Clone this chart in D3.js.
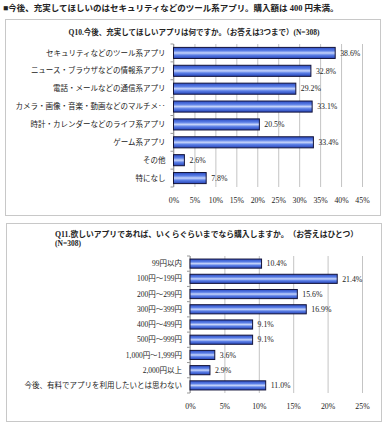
<!DOCTYPE html>
<html>
<head>
<meta charset="utf-8">
<script src="https://cdn.jsdelivr.net/npm/d3@7"></script>
<style>
  body { margin: 0; background: #fff; }
  svg text { font-family: "Liberation Serif", "Noto Sans CJK JP", serif; fill: #222; }
</style>
</head>
<body>
<svg id="chart" width="384" height="426"></svg>
<script>
const heading = '■今後、充実してほしいのはセキュリティなどのツール系アプリ。購入額は 400 円未満。';

const q10Title = 'Q10.今後、充実してほしいアプリは何ですか。（お答えは3つまで）(N=308)';
const q10Cats = [
  'セキュリティなどのツール系アプリ',
  'ニュース・ブラウザなどの情報系アプリ',
  '電話・メールなどの通信系アプリ',
  'カメラ・画像・音楽・動画などのマルチメ‥',
  '時計・カレンダーなどのライフ系アプリ',
  'ゲーム系アプリ',
  'その他',
  '特になし'
];
const q10Values = [38.6, 32.8, 29.2, 33.1, 20.5, 33.4, 2.6, 7.8];
const q10Ticks = [0, 5, 10, 15, 20, 25, 30, 35, 40, 45];

const q11Title = 'Q11.欲しいアプリであれば、いくらぐらいまでなら購入しますか。（お答えはひとつ）';
const q11Sub = '(N=308)';
const q11Cats = [
  '99円以内',
  '100円～199円',
  '200円～299円',
  '300円～399円',
  '400円～499円',
  '500円～999円',
  '1,000円～1,999円',
  '2,000円以上',
  '今後、有料でアプリを利用したいとは思わない'
];
const q11Values = [10.4, 21.4, 15.6, 16.9, 9.1, 9.1, 3.6, 2.9, 11.0];
const q11Ticks = [0, 5, 10, 15, 20, 25];

const svg = d3.select('#chart');

// bar fill: darker edges, light stripe in the middle
const grad = svg.append('defs').append('linearGradient')
    .attr('id', 'barGrad')
    .attr('x1', 0).attr('y1', 0).attr('x2', 0).attr('y2', 1);
grad.append('stop').attr('offset', '0%').attr('stop-color', '#2c4cc4');
grad.append('stop').attr('offset', '30%').attr('stop-color', '#5a7ee6');
grad.append('stop').attr('offset', '50%').attr('stop-color', '#c6d4fa');
grad.append('stop').attr('offset', '70%').attr('stop-color', '#5a7ee6');
grad.append('stop').attr('offset', '100%').attr('stop-color', '#2644b8');

svg.append('text')
    .attr('x', 3).attr('y', 11)
    .style('font-size', '8.5px')
    .style('font-weight', 'bold')
    .text(heading);

function drawChart(cfg) {
  let { box, title, cats, values, ticks, xr, yr, pad } = cfg;

  svg.append('rect')
      .attr('x', box[0] + 0.5).attr('y', box[1] + 0.5)
      .attr('width', box[2]).attr('height', box[3])
      .attr('fill', '#fff')
      .attr('stroke', '#c8c8c8');

  title.forEach(t => {
    svg.append('text')
        .attr('x', t.x).attr('y', t.y)
        .attr('text-anchor', t.anchor)
        .style('font-size', t.size || '7.5px')
        .style('font-weight', 'bold')
        .text(t.text);
  });

  let x = d3.scaleLinear().domain([0, ticks[ticks.length - 1]]).range(xr);
  let y = d3.scaleBand().domain(cats).range(yr).paddingInner(pad).paddingOuter(pad / 2);

  // grid + tick labels
  let xAxis = svg.append('g')
      .attr('transform', `translate(0,${yr[1]})`)
      .call(d3.axisBottom(x).tickValues(ticks).tickSize(-(yr[1] - yr[0])).tickFormat(d => d + '%'));
  xAxis.select('.domain').remove();
  xAxis.selectAll('line').attr('stroke', '#c4c4c4');
  xAxis.selectAll('text')
      .attr('dy', 0)
      .attr('y', 16)
      .style('font-size', '7.8px')
      .attr('fill', '#333');

  // category axis with ticks at band edges
  svg.append('line')
      .attr('x1', x(0)).attr('x2', x(0))
      .attr('y1', yr[0]).attr('y2', yr[1])
      .attr('stroke', '#999');
  let edges = cats.map(c => y(c) - y.step() * pad / 2).concat([yr[1]]);
  svg.selectAll(null).data(edges).enter().append('line')
      .attr('x1', x(0) - 3).attr('x2', x(0))
      .attr('y1', d => d).attr('y2', d => d)
      .attr('stroke', '#999');

  svg.selectAll(null).data(cats).enter().append('text')
      .attr('x', x(0) - 8)
      .attr('y', d => y(d) + y.bandwidth() / 2)
      .attr('dy', '0.35em')
      .attr('text-anchor', 'end')
      .style('font-size', '7.5px')
      .text(d => d);

  let data = cats.map((c, i) => ({ cat: c, v: values[i] }));

  svg.selectAll(null).data(data).enter().append('rect')
      .attr('x', x(0))
      .attr('y', d => y(d.cat))
      .attr('width', d => x(d.v) - x(0))
      .attr('height', y.bandwidth())
      .attr('fill', 'url(#barGrad)')
      .attr('stroke', '#14143a')
      .attr('stroke-width', 1);

  svg.selectAll(null).data(data).enter().append('text')
      .attr('x', d => x(d.v) + 5)
      .attr('y', d => y(d.cat) + y.bandwidth() / 2)
      .attr('dy', '0.35em')
      .style('font-size', '7.8px')
      .attr('fill', '#333')
      .text(d => d.v.toFixed(1) + '%');
}

drawChart({
  box: [5, 19, 375, 196],
  title: [{ x: 194, y: 35, anchor: 'middle', text: q10Title }],
  cats: q10Cats,
  values: q10Values,
  ticks: q10Ticks,
  xr: [173.5, 362],
  yr: [44, 187],
  pad: 0.38
});

drawChart({
  box: [6, 223, 375, 198],
  title: [
    { x: 55, y: 237, anchor: 'start', text: q11Title, size: '7.8px' },
    { x: 55, y: 246, anchor: 'start', text: q11Sub }
  ],
  cats: q11Cats,
  values: q11Values,
  ticks: q11Ticks,
  xr: [190, 362],
  yr: [256, 393],
  pad: 0.4
});
</script>
</body>
</html>
